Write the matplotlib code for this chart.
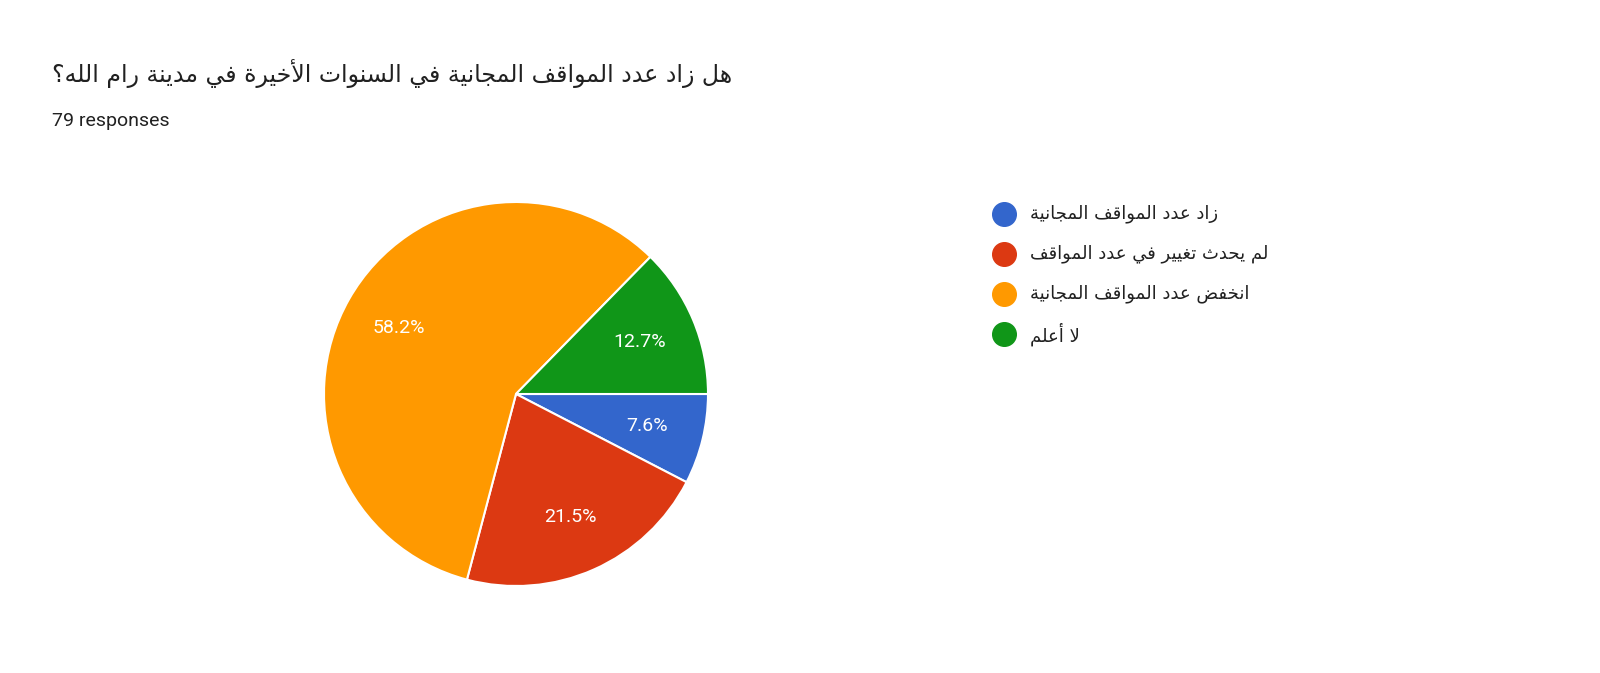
import matplotlib.pyplot as plt
from matplotlib.lines import Line2D

# Arabic is drawn in visual order with presentation forms (no shaping in matplotlib)
DUAL = {'ب': 0xFE8F, 'ت': 0xFE95, 'ث': 0xFE99, 'ج': 0xFE9D, 'ح': 0xFEA1, 'خ': 0xFEA5,
        'س': 0xFEB1, 'ض': 0xFEBD, 'ع': 0xFEC9, 'غ': 0xFECD, 'ف': 0xFED1, 'ق': 0xFED5,
        'ل': 0xFEDD, 'م': 0xFEE1, 'ن': 0xFEE5, 'ه': 0xFEE9, 'ي': 0xFEF1}
RIGHT = {'ا': 0xFE8D, 'أ': 0xFE83, 'ة': 0xFE93, 'د': 0xFEA9, 'ر': 0xFEAD, 'ز': 0xFEAF, 'و': 0xFEED}
LAM_ALEF = {'ا': 0xFEFB, 'أ': 0xFEF7}


def shape(s):
    out = []
    i = 0
    prev_joins = False
    while i < len(s):
        c = s[i]
        if c == 'ل' and i + 1 < len(s) and s[i + 1] in LAM_ALEF:
            out.append(chr(LAM_ALEF[s[i + 1]] + (1 if prev_joins else 0)))
            prev_joins = False
            i += 2
            continue
        nxt = s[i + 1] if i + 1 < len(s) else ''
        next_joins = nxt in DUAL or nxt in RIGHT
        if c in DUAL:
            form = {(False, False): 0, (True, False): 1, (False, True): 2, (True, True): 3}[(prev_joins, next_joins)]
            out.append(chr(DUAL[c] + form))
            prev_joins = True
        elif c in RIGHT:
            out.append(chr(RIGHT[c] + (1 if prev_joins else 0)))
            prev_joins = False
        else:
            out.append(c)
            prev_joins = False
        i += 1
    return ''.join(reversed(out))


title = 'هل زاد عدد المواقف المجانية في السنوات الأخيرة في مدينة رام الله؟'
labels = ['زاد عدد المواقف المجانية', 'لم يحدث تغيير في عدد المواقف',
          'انخفض عدد المواقف المجانية', 'لا أعلم']
counts = [6, 17, 46, 10]
colors = ['#3366cc', '#dc3912', '#ff9900', '#109618']

fig = plt.figure(figsize=(16, 6.73), dpi=100)
fig.text(52 / 1600, 1 - 73 / 673, shape(title), fontsize=17, color='#212121',
         va='center', ha='left', family='DejaVu Sans')
fig.text(52 / 1600, 1 - 121 / 673, '79 responses', fontsize=14, color='#212121',
         va='center', ha='left', family='Roboto')

ax = fig.add_axes([324 / 1600, 87 / 673, 384 / 1600, 384 / 673])
wedges, texts, autotexts = ax.pie(counts, colors=colors, startangle=0, counterclock=False,
                                  autopct='%1.1f%%', pctdistance=0.7,
                                  wedgeprops=dict(edgecolor='white', linewidth=1.5),
                                  textprops=dict(color='white', fontsize=14, family='Roboto'))
ax.set_xlim(-1, 1)
ax.set_ylim(-1, 1)

for i, lab in enumerate(labels):
    y = 1 - (214 + 40 * i) / 673
    fig.add_artist(Line2D([1004 / 1600], [y], marker='o', markersize=17, color=colors[i],
                          linestyle='none', transform=fig.transFigure))
    fig.text(1030 / 1600, y, shape(lab), fontsize=13, color='#212121', va='center',
             ha='left', family='DejaVu Sans')

plt.savefig('out.png')
